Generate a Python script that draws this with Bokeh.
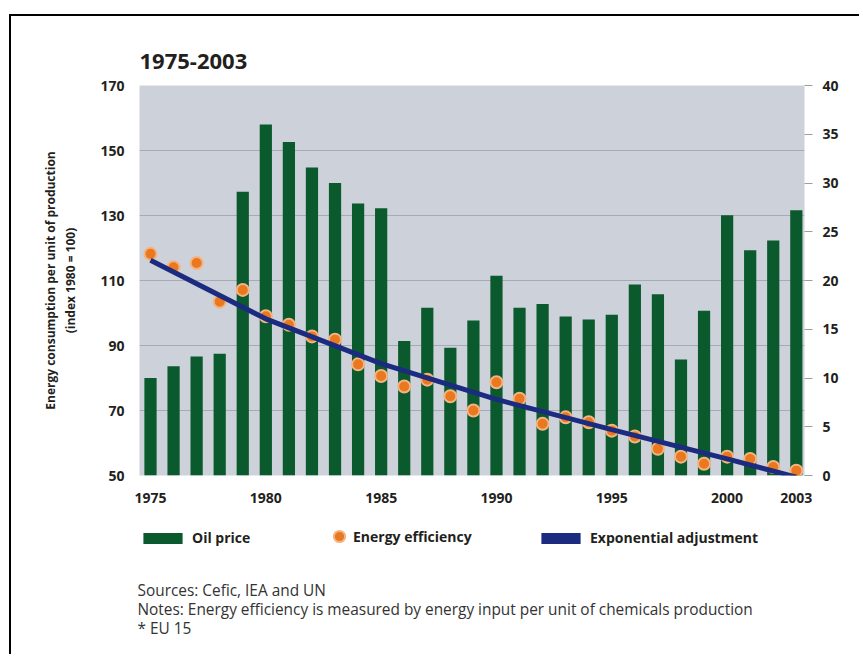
from bokeh.plotting import figure
from bokeh.layouts import column
from bokeh.models import Range1d, LinearAxis, FixedTicker, Label, Legend, LegendItem, ColumnDataSource
from bokeh.embed import file_html
from bokeh.resources import INLINE

# ---- data ----
years = list(range(1975, 2004))
oil_price = [10.0, 11.2, 12.2, 12.5, 29.1, 36.0, 34.2, 31.6, 30.0, 27.9, 27.4,
             13.8, 17.2, 13.1, 15.9, 20.5, 17.2, 17.6, 16.3, 16.0, 16.5,
             19.6, 18.6, 11.9, 16.9, 26.7, 23.1, 24.1, 27.2]
energy_efficiency = [118.2, 114.1, 115.4, 103.5, 107.1, 99.0, 96.4, 92.8, 91.8, 84.2, 80.6,
                     77.4, 79.5, 74.4, 70.0, 78.7, 73.6, 65.9, 67.9, 66.4, 63.8,
                     62.0, 58.2, 55.8, 53.6, 55.8, 55.1, 52.6, 51.5]
fit_years = [1975, 1980, 1985, 1990, 1995, 2000, 2003]
fit_values = [116.2, 98.2, 84.4, 73.4, 64.1, 55.1, 49.5]
x_ticks = [1975, 1980, 1985, 1990, 1995, 2000, 2003]
left_ticks = [50, 70, 90, 110, 130, 150, 170]
right_ticks = [0, 5, 10, 15, 20, 25, 30, 35, 40]

title_text = "1975-2003"
ylabel = "Energy consumption per unit of production\n(index 1980 = 100)"
legend_labels = ["Oil price", "Energy efficiency", "Exponential adjustment"]
notes = ["Sources: Cefic, IEA and UN",
         "Notes: Energy efficiency is measured by energy input per unit of chemicals production",
         "* EU 15"]

FONT = "Open Sans"
GREEN = "#0b5a2d"
ORANGE = "#e9781f"
NAVY = "#1b2b7f"
TXT = "#231f20"
W = 850
NAN = float("nan")

# ---------------- main chart ----------------
p = figure(width=W, height=495, output_backend="svg", toolbar_location=None,
           x_range=Range1d(1974.523, 2003.355), y_range=Range1d(50, 170),
           min_border_left=128, min_border_right=57, min_border_top=69, min_border_bottom=36,
           background_fill_color="#cdd1da", border_fill_color="white",
           outline_line_color=None, frame_align=False,
           styles={"border-left": "2px solid #000", "border-top": "2px solid #000",
                   "margin-left": "9px", "margin-top": "14px"})
p.extra_y_ranges = {"oil": Range1d(0, 40)}

p.title.text = title_text
p.title.align = "left"
p.title.text_font = FONT
p.title.text_font_style = "bold"
p.title.text_font_size = "22px"
p.title.text_color = TXT
p.title.standoff = 33
p.title.offset = 0

p.xaxis.ticker = FixedTicker(ticks=x_ticks)
p.yaxis.ticker = FixedTicker(ticks=left_ticks)
for ax in (p.xaxis[0], p.yaxis[0]):
    ax.axis_line_color = None
    ax.major_tick_line_color = None
    ax.minor_tick_line_color = None
    ax.major_label_text_font = FONT
    ax.major_label_text_font_style = "bold"
    ax.major_label_text_font_size = "14px"
    ax.major_label_text_color = TXT
p.yaxis.major_label_standoff = 9
p.xaxis.major_label_standoff = 11
p.yaxis.axis_label = ylabel
p.yaxis.axis_label_text_font = FONT
p.yaxis.axis_label_text_font_style = "bold"
p.yaxis.axis_label_text_font_size = "12px"
p.yaxis.axis_label_text_color = TXT
p.yaxis.axis_label_standoff = 18

raxis = LinearAxis(y_range_name="oil", ticker=FixedTicker(ticks=right_ticks))
raxis.axis_line_color = None
raxis.major_tick_line_color = "#9a9da5"
raxis.major_tick_in = 0
raxis.major_tick_out = 8
raxis.minor_tick_line_color = None
raxis.major_label_text_font = FONT
raxis.major_label_text_font_style = "bold"
raxis.major_label_text_font_size = "14px"
raxis.major_label_text_color = TXT
raxis.major_label_standoff = 10
p.add_layout(raxis, "right")

p.xgrid.grid_line_color = None
p.ygrid.ticker = FixedTicker(ticks=[70, 90, 110, 130, 150])
p.ygrid.grid_line_color = "#a6aab4"
p.ygrid.grid_line_width = 1

src = ColumnDataSource(dict(year=years, oil=oil_price, eff=energy_efficiency))
p.vbar(x="year", top="oil", bottom=0, width=0.53, source=src, y_range_name="oil",
       fill_color=GREEN, line_color=None)
p.scatter(x="year", y="eff", source=src, size=12, fill_color=ORANGE,
          line_color="#f3b383", line_width=2)
p.line(x=fit_years, y=fit_values, line_color=NAVY, line_width=5)

# ---------------- footer: legend + notes ----------------
FH = 145
f = figure(width=W, height=FH, output_backend="svg", toolbar_location=None,
           x_range=Range1d(0, W), y_range=Range1d(0, FH),
           x_axis_location=None, y_axis_location=None,
           min_border=0, outline_line_color=None, frame_align=False,
           background_fill_color="white", border_fill_color="white",
           styles={"border-left": "2px solid #000", "margin-left": "9px"})
f.xgrid.grid_line_color = None
f.ygrid.grid_line_color = None

# legend-only proxies (no visible marks)
r_oil = f.vbar(x=[NAN], top=[NAN], width=1, fill_color=GREEN, line_color=None)
r_eff = f.scatter(x=[NAN], y=[NAN], size=12, fill_color=ORANGE, line_color="#f3b383", line_width=2)
r_fit = f.vbar(x=[NAN], top=[NAN], width=1, fill_color=NAVY, line_color=None)

def add_legend(label, renderer, x, y, gw, gh, standoff):
    lg = Legend(items=[LegendItem(label=label, renderers=[renderer])],
                location=(x, y), orientation="horizontal",
                glyph_width=gw, glyph_height=gh, label_height=14,
                label_standoff=standoff, padding=0, margin=0, spacing=0,
                border_line_color=None, background_fill_alpha=0,
                label_text_font=FONT, label_text_font_style="bold",
                label_text_font_size="14px", label_text_color=TXT)
    f.add_layout(lg)

add_legend(legend_labels[0], r_oil, 127, 107, 49, 14, 5)
add_legend(legend_labels[1], r_eff, 314, 104, 28, 28, 0)
add_legend(legend_labels[2], r_fit, 525, 107, 49, 14, 5)

for i, t in enumerate(notes):
    f.add_layout(Label(x=126, y=64 - 19 * i, x_units="screen", y_units="screen", text=t,
                       text_baseline="middle", text_font=FONT, text_font_size="15.4px",
                       text_color="#333333"))

layout = column(p, f)
open("out.html", "w").write(file_html(layout, INLINE))
